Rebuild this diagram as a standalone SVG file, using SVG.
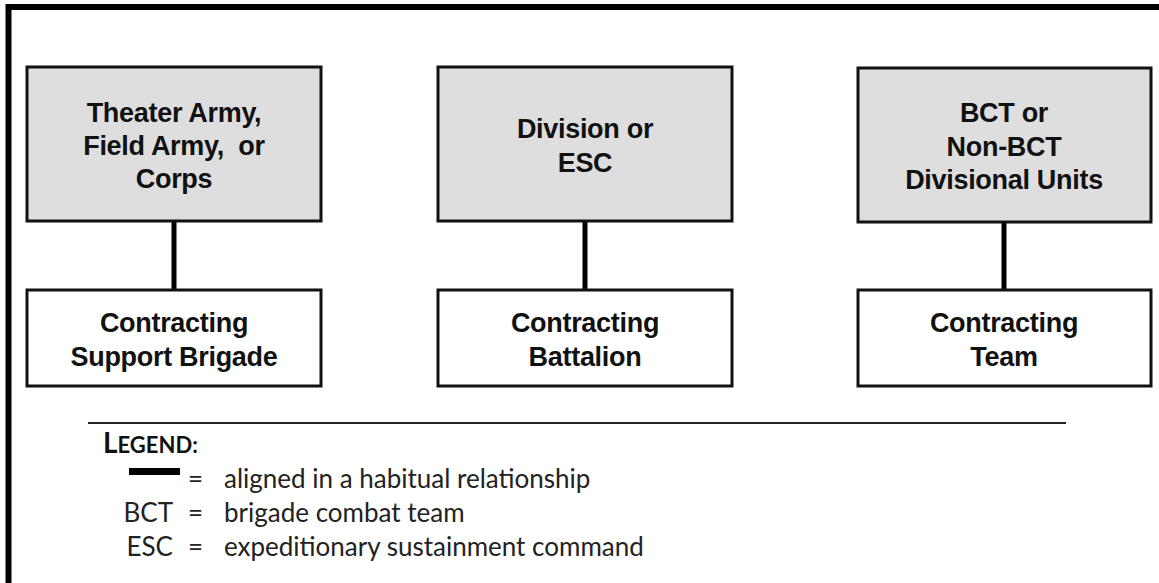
<svg xmlns="http://www.w3.org/2000/svg" width="1159" height="583" viewBox="0 0 1159 583">
  <style>
    .frame { fill: none; stroke: #000; stroke-width: 6; }
    .top { fill: #dedede; stroke: #111; stroke-width: 3; }
    .bot { fill: #fff; stroke: #111; stroke-width: 3; }
    .conn { stroke: #000; stroke-width: 5; }
    .lbl { font-family: "Liberation Sans", Arial, sans-serif; font-weight: bold; font-size: 27px; fill: #111; text-anchor: middle; letter-spacing: -0.3px; white-space: pre; }
    .leg { font-family: Lato, "Open Sans", sans-serif; font-size: 26px; fill: #222; }
    .legh { font-family: Lato, "Open Sans", sans-serif; font-weight: bold; fill: #111; }
  </style>
  <rect x="0" y="0" width="1159" height="583" fill="#fff"/>
  <rect class="frame" x="8.5" y="7" width="1180" height="600"/>

  <g id="connectors">
    <line class="conn" x1="174" y1="222" x2="174" y2="289"/>
    <line class="conn" x1="585" y1="222" x2="585" y2="289"/>
    <line class="conn" x1="1004" y1="222" x2="1004" y2="289"/>
  </g>

  <g id="theater">
    <rect class="top" x="27" y="67" width="294" height="154"/>
    <text class="lbl" x="174" y="122">Theater Army,</text>
    <text class="lbl" x="174" y="155" xml:space="preserve">Field Army,  or</text>
    <text class="lbl" x="174" y="188">Corps</text>
  </g>
  <g id="division">
    <rect class="top" x="438" y="67" width="294" height="154"/>
    <text class="lbl" x="585" y="138">Division or</text>
    <text class="lbl" x="585" y="172">ESC</text>
  </g>
  <g id="bct">
    <rect class="top" x="858" y="68" width="293" height="154"/>
    <text class="lbl" x="1004" y="122">BCT or</text>
    <text class="lbl" x="1004" y="156">Non-BCT</text>
    <text class="lbl" x="1004" y="189">Divisional Units</text>
  </g>

  <g id="csb">
    <rect class="bot" x="27" y="290" width="294" height="96"/>
    <text class="lbl" x="174" y="332">Contracting</text>
    <text class="lbl" x="174" y="366">Support Brigade</text>
  </g>
  <g id="cbn">
    <rect class="bot" x="438" y="290" width="294" height="96"/>
    <text class="lbl" x="585" y="332">Contracting</text>
    <text class="lbl" x="585" y="366">Battalion</text>
  </g>
  <g id="ct">
    <rect class="bot" x="858" y="290" width="293" height="96"/>
    <text class="lbl" x="1004" y="332">Contracting</text>
    <text class="lbl" x="1004" y="366">Team</text>
  </g>

  <g id="legend">
    <line x1="88" y1="423" x2="1066" y2="423" stroke="#222" stroke-width="2"/>
    <text class="legh" x="103" y="453"><tspan font-size="28">L</tspan><tspan font-size="22">EGEND:</tspan></text>
    <rect x="129" y="468" width="51" height="7" fill="#000"/>
    <text class="leg" x="188" y="488">=</text>
    <text class="leg" x="224" y="488">aligned in a habitual relationship</text>
    <text class="leg" x="173" y="522" text-anchor="end">BCT</text>
    <text class="leg" x="188" y="522">=</text>
    <text class="leg" x="224" y="522">brigade combat team</text>
    <text class="leg" x="173" y="556" text-anchor="end">ESC</text>
    <text class="leg" x="188" y="556">=</text>
    <text class="leg" x="224" y="556">expeditionary sustainment command</text>
  </g>
</svg>
